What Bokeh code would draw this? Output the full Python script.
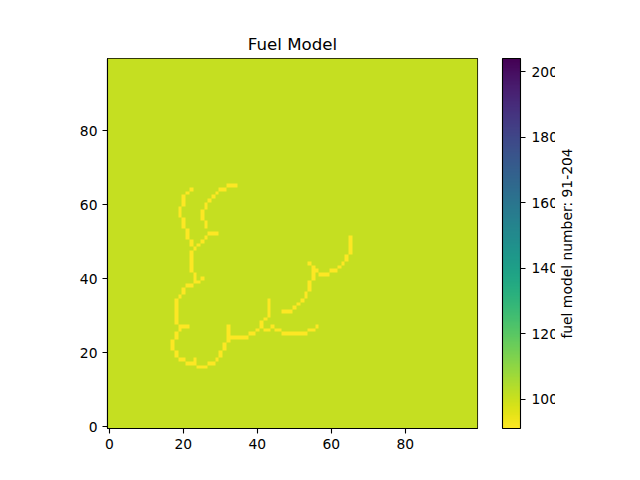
import numpy as np
from bokeh.layouts import row
from bokeh.plotting import figure
from bokeh.models import LinearColorMapper, ColorBar, FixedTicker, Range1d
from bokeh.palettes import Viridis256
from bokeh.embed import file_html
from bokeh.resources import INLINE

title_text = "Fuel Model"
colorbar_label = "fuel model number: 91-204"
grid_size = 100
fuel_min = 91
fuel_max = 204
background_fuel = 101
fire_fuel = 91
axis_ticks = [0, 20, 40, 60, 80]
colorbar_ticks = [100, 120, 140, 160, 180, 200]

# row -> columns holding the lower fuel number
fire_cells = {
    65: [32, 33, 34],
    64: [22, 30, 31],
    63: [21, 29],
    62: [20, 28],
    61: [20, 27],
    60: [20, 26],
    59: [19, 26],
    58: [19, 25],
    57: [19, 25],
    56: [20, 25],
    55: [20, 26],
    54: [20, 26],
    53: [21],
    52: [21, 27, 28, 29],
    51: [21, 26, 65],
    50: [22, 25, 65],
    49: [22, 24, 65],
    48: [23, 65],
    47: [22, 65],
    46: [22, 64],
    45: [22, 64],
    44: [22, 54, 63],
    43: [22, 55, 62],
    42: [22, 55, 56, 60, 61],
    41: [23, 55, 57, 58, 59],
    40: [23, 25, 55],
    39: [23, 24, 54],
    38: [21, 22, 54],
    37: [20, 54],
    36: [20, 53],
    35: [19, 53],
    34: [18, 43, 52],
    33: [18, 43, 51],
    32: [18, 43, 50],
    31: [18, 43, 47, 48, 49],
    30: [18, 43],
    29: [18, 42],
    28: [18, 41],
    27: [19, 20, 21, 32, 41, 44, 56],
    26: [19, 32, 40, 42, 43, 45, 46, 54, 55],
    25: [18, 32, 38, 39, 47, 48, 49, 50, 51, 52, 53],
    24: [18, 32, 33, 34, 35, 36, 37],
    23: [17, 32],
    22: [17, 31],
    21: [17, 31],
    20: [18, 30],
    19: [18, 30],
    18: [19, 20, 23, 29],
    17: [21, 22, 23, 27, 28],
    16: [24, 25, 26],
}

grid = np.full((grid_size, grid_size), background_fuel, dtype=float)
for r, cols in fire_cells.items():
    grid[r, cols] = fire_fuel

FRAME_PX = 370
# one image pixel per screen pixel, sampled nearest like the reference
idx = (np.arange(FRAME_PX) * grid_size // FRAME_PX)
screen_grid = grid[np.ix_(idx, idx)]

FONT = "DejaVu Sans"
TICK_SIZE = "13.89px"
palette = list(reversed(Viridis256))
mapper = LinearColorMapper(palette=palette, low=fuel_min, high=fuel_max)

p = figure(
    frame_width=FRAME_PX, frame_height=FRAME_PX,
    min_border_left=107, min_border_right=78, min_border_top=58, min_border_bottom=44,
    x_range=Range1d(-0.5, grid_size - 0.5), y_range=Range1d(-0.5, grid_size - 0.5),
    output_backend="svg", toolbar_location=None, tools="",
)
p.image(image=[screen_grid], x=-0.5, y=-0.5, dw=grid_size, dh=grid_size, color_mapper=mapper)

p.title.text = title_text
p.title.align = "center"
p.title.text_font = FONT
p.title.text_font_size = "16.67px"
p.title.text_font_style = "normal"
p.title.text_color = "black"
p.title.offset = 0
p.title.standoff = 9

p.grid.visible = False
p.outline_line_color = "black"
p.outline_line_width = 1.1
for ax in (p.xaxis[0], p.yaxis[0]):
    ax.ticker = FixedTicker(ticks=axis_ticks)
    ax.major_label_text_font = FONT
    ax.major_label_text_font_size = TICK_SIZE
    ax.major_label_text_color = "black"
    ax.major_tick_in = 0
    ax.major_tick_out = 5
    ax.major_tick_line_color = "black"
    ax.major_tick_line_width = 1.1
    ax.minor_tick_line_color = None
    ax.axis_line_color = "black"
    ax.axis_line_width = 1.1
    ax.major_label_standoff = 5

cb = ColorBar(
    color_mapper=mapper, location=(395, 0), width=18, height=FRAME_PX,
    padding=0, margin=0, ticker=FixedTicker(ticks=colorbar_ticks),
    major_label_text_font=FONT, major_label_text_font_size=TICK_SIZE,
    major_label_text_color="black", major_tick_in=0, major_tick_out=5,
    major_tick_line_color="black", major_tick_line_width=1.1,
    bar_line_color="black", bar_line_width=1.1, label_standoff=6,
    background_fill_color=None, border_line_color=None,
)
p.add_layout(cb, "center")

# narrow companion figure that only carries the colour bar's rotated label
q = figure(
    frame_width=1, frame_height=FRAME_PX,
    min_border_left=10, min_border_right=0, min_border_top=58, min_border_bottom=44,
    x_axis_location=None, y_axis_location="left",
    x_range=Range1d(0, 1), y_range=Range1d(0, 1),
    output_backend="svg", toolbar_location=None, tools="",
)
q.grid.visible = False
q.outline_line_color = None
q.yaxis[0].ticker = FixedTicker(ticks=[])
q.yaxis[0].axis_label = colorbar_label
q.yaxis[0].axis_label_text_font = FONT
q.yaxis[0].axis_label_text_font_size = TICK_SIZE
q.yaxis[0].axis_label_text_font_style = "normal"
q.yaxis[0].axis_label_text_color = "black"
q.yaxis[0].axis_label_standoff = 0
q.yaxis[0].axis_line_color = None
q.yaxis[0].major_tick_line_color = None
q.yaxis[0].minor_tick_line_color = None
q.yaxis[0].major_label_text_font_size = "0px"

open("out.html", "w").write(file_html(row(p, q), INLINE))
